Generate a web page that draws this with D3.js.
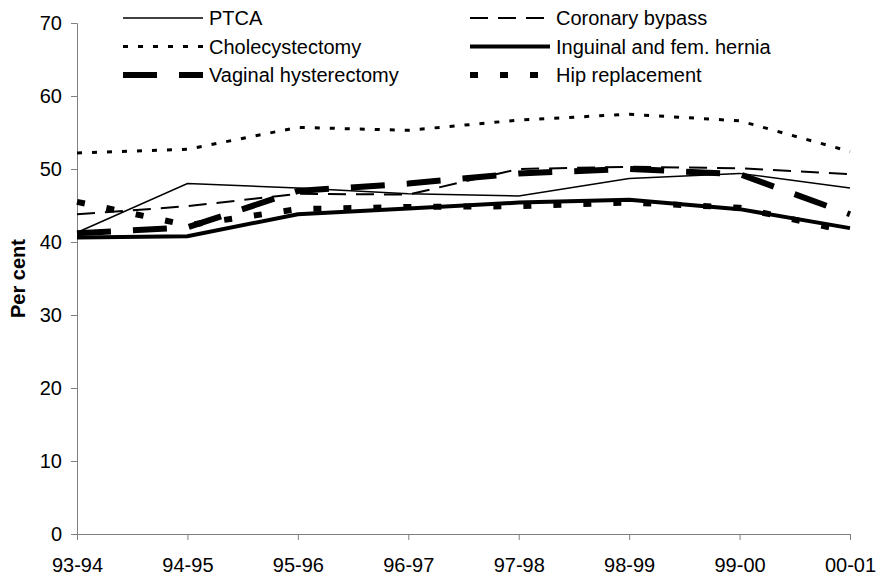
<!DOCTYPE html>
<html>
<head>
<meta charset="utf-8">
<script src="https://cdn.jsdelivr.net/npm/d3@7"></script>
<style>
  body { margin: 0; background: #fff; }
  text { font-family: "Liberation Sans", Arial, sans-serif; fill: #000; }
</style>
</head>
<body>
<div id="chart"></div>
<script>
// categories and series
var years = ["93-94", "94-95", "95-96", "96-97", "97-98", "98-99", "99-00", "00-01"];
var ptca        = [41.3, 48.0, 47.4, 46.6, 46.3, 48.7, 49.4, 47.4];
var coronary    = [43.8, 44.9, 46.6, 46.5, 50.0, 50.3, 50.1, 49.3];
var chole       = [52.2, 52.7, 55.7, 55.3, 56.7, 57.5, 56.6, 52.4];
var inguinal    = [40.6, 40.8, 43.8, 44.6, 45.4, 45.8, 44.5, 41.9];
var vaginal     = [41.2, 42.0, 47.0, 48.0, 49.4, 50.0, 49.3, 43.8];
var hip         = [45.5, 42.3, 44.5, 44.8, 44.9, 45.4, 44.7, 41.4];
var yTicks = [0, 10, 20, 30, 40, 50, 60, 70];

// line styles, legend column / row
var series = [
    { name: "PTCA", values: ptca, width: 1.5, dash: null, col: 0, row: 0 },
    { name: "Cholecystectomy", values: chole, width: 3, dash: "5,10", col: 0, row: 1 },
    { name: "Vaginal hysterectomy", values: vaginal, width: 6, dash: "34,22", col: 0, row: 2 },
    { name: "Coronary bypass", values: coronary, width: 2, dash: "18,10", col: 1, row: 0 },
    { name: "Inguinal and fem. hernia", values: inguinal, width: 4, dash: null, col: 1, row: 1 },
    { name: "Hip replacement", values: hip, width: 6, dash: "8,22", col: 1, row: 2 }
];

var width = 879, height = 580;
var margin = { left: 77, right: 29, top: 23, bottom: 46 };

var svg = d3.select("#chart").append("svg")
    .attr("width", width)
    .attr("height", height);

var x = d3.scalePoint()
    .domain(years)
    .range([margin.left, width - margin.right]);

var y = d3.scaleLinear()
    .domain([0, 70])
    .range([height - margin.bottom, margin.top]);

// y axis
svg.append("g")
    .attr("transform", "translate(" + margin.left + ",0)")
    .call(d3.axisLeft(y).tickValues(yTicks).tickSize(6).tickPadding(9));

// x axis
svg.append("g")
    .attr("transform", "translate(0," + y(0) + ")")
    .call(d3.axisBottom(x).tickSize(6).tickPadding(18));

svg.selectAll(".domain, .tick line").attr("stroke", "#808080");
svg.selectAll(".tick text")
    .style("font-size", "20px")
    .style("font-family", "'Liberation Sans', Arial, sans-serif")
    .attr("fill", "#000");

// axis title
svg.append("text")
    .attr("transform", "translate(25," + ((y(0) + y(70)) / 2) + ") rotate(-90)")
    .attr("text-anchor", "middle")
    .style("font-size", "20px")
    .style("font-weight", "bold")
    .text("Per cent");

// lines
var line = d3.line()
    .x(function(d, i) { return x(years[i]); })
    .y(function(d) { return y(d); });

svg.selectAll("path.series")
    .data(series)
    .enter().append("path")
    .attr("class", "series")
    .attr("fill", "none")
    .attr("stroke", "#000")
    .attr("stroke-width", function(d) { return d.width; })
    .attr("stroke-dasharray", function(d) { return d.dash; })
    .attr("d", function(d) { return line(d.values); });

// legend
var legX = [123, 470], rowY = [18, 46.5, 75];
var leg = svg.selectAll("g.legend")
    .data(series)
    .enter().append("g")
    .attr("class", "legend")
    .attr("transform", function(d) { return "translate(" + legX[d.col] + "," + rowY[d.row] + ")"; });

leg.append("line")
    .attr("x1", 0).attr("x2", 80)
    .attr("stroke", "#000")
    .attr("stroke-width", function(d) { return d.width; })
    .attr("stroke-dasharray", function(d) { return d.dash; });

leg.append("text")
    .attr("x", 86)
    .attr("dy", "0.36em")
    .style("font-size", "20px")
    .text(function(d) { return d.name; });
</script>
</body>
</html>
